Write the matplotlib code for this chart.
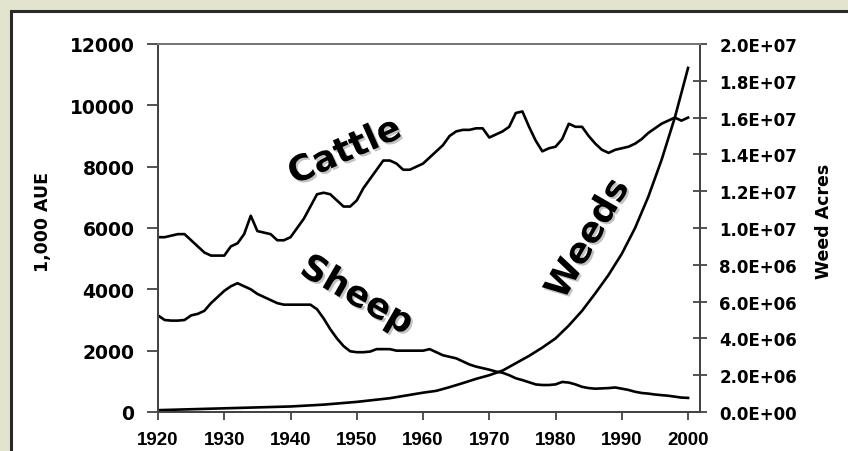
import matplotlib
matplotlib.use('Agg')
import matplotlib.pyplot as plt
import matplotlib.patheffects as pe
from matplotlib.patches import Rectangle
from matplotlib.ticker import FuncFormatter

# Cattle and sheep, 1,000 animal unit equivalents (annual)
years = list(range(1920, 2001))
cattle = [5700, 5700, 5750, 5800, 5800, 5600, 5400, 5200, 5100, 5100,
          5100, 5400, 5500, 5800, 6400, 5900, 5850, 5800, 5600, 5600,
          5700, 6000, 6300, 6700, 7100, 7150, 7100, 6900, 6700, 6700,
          6900, 7300, 7600, 7900, 8200, 8200, 8100, 7900, 7900, 8000,
          8100, 8300, 8500, 8700, 9000, 9150, 9200, 9200, 9250, 9250,
          8950, 9050, 9150, 9300, 9750, 9800, 9300, 8850, 8500, 8600,
          8650, 8900, 9400, 9300, 9300, 9000, 8750, 8550, 8450, 8550,
          8600, 8650, 8750, 8900, 9100, 9250, 9400, 9500, 9600, 9500,
          9600]
sheep = [3150, 3000, 2980, 2980, 3000, 3150, 3200, 3300, 3550, 3750,
         3950, 4100, 4200, 4100, 4000, 3850, 3750, 3650, 3550, 3500,
         3500, 3500, 3500, 3500, 3350, 3050, 2700, 2400, 2150, 1980,
         1950, 1950, 1970, 2050, 2050, 2050, 2000, 2000, 2000, 2000,
         2000, 2050, 1950, 1850, 1800, 1750, 1650, 1550, 1480, 1430,
         1380, 1320, 1280, 1200, 1100, 1040, 970, 900, 880, 880,
         900, 980, 960, 900, 820, 780, 760, 770, 780, 800,
         760, 720, 660, 620, 600, 570, 550, 530, 500, 470,
         460]

# Weed acres (right axis)
weed_years = [1920, 1925, 1930, 1935, 1940, 1945, 1950, 1955, 1960,
              1962, 1964, 1966, 1968, 1970, 1972, 1974, 1976, 1978, 1980,
              1982, 1984, 1986, 1988, 1990, 1992, 1994, 1996, 1998, 2000]
weeds = [1.0e5, 1.5e5, 2.0e5, 2.5e5, 3.0e5, 4.0e5, 5.5e5, 7.5e5, 1.05e6,
         1.15e6, 1.35e6, 1.57e6, 1.8e6, 2.0e6, 2.25e6, 2.65e6, 3.05e6, 3.5e6, 4.0e6,
         4.7e6, 5.5e6, 6.45e6, 7.45e6, 8.6e6, 1.0e7, 1.17e7, 1.37e7, 1.6e7, 1.87e7]

left_ticks = [0, 2000, 4000, 6000, 8000, 10000, 12000]
right_ticks = [0, 2e6, 4e6, 6e6, 8e6, 1e7, 1.2e7, 1.4e7, 1.6e7, 1.8e7, 2e7]
x_ticks = [1920, 1930, 1940, 1950, 1960, 1970, 1980, 1990, 2000]

fig = plt.figure(figsize=(8.48, 4.52), dpi=100)
fig.patch.set_facecolor('#e2e4cd')

# White panel with a dark frame (runs off the right and bottom edges)
panel = Rectangle((11 / 848, -0.05), 1.0, 1 - 12 / 452 + 0.05, transform=fig.transFigure,
                  facecolor='white', edgecolor='#2a2a2a', linewidth=2.2, zorder=-10)
fig.patches.append(panel)

ax = fig.add_axes([158 / 848, 1 - 413 / 452, 542 / 848, 368 / 452])
ax.set_facecolor('none')
ax2 = ax.twinx()
ax2.set_facecolor('none')

line_kw = dict(color='black', linewidth=1.9, solid_joinstyle='round')
ax.plot(years, cattle, **line_kw)
ax.plot(years, sheep, **line_kw)
ax2.plot(weed_years, weeds, **line_kw)

ax.set_xlim(1920, 2001.8)
ax.set_ylim(0, 12000)
ax2.set_ylim(0, 2e7)

ax.set_xticks(x_ticks)
ax.set_yticks(left_ticks)
ax2.set_yticks(right_ticks)
ax2.yaxis.set_major_formatter(FuncFormatter(lambda v, p: '%.1E' % v))

# Axis styling
for a in (ax, ax2):
    for s in a.spines.values():
        s.set_color('#444444')
        s.set_linewidth(1.4)
    a.spines['top'].set_color('#777777')
ax.tick_params(axis='y', direction='out', length=8, width=1.3, color='#444444', pad=9)
ax.tick_params(axis='x', direction='out', length=6, width=1.3, color='#444444', pad=8)
ax2.tick_params(axis='y', direction='inout', length=10, width=1.3, color='#444444', pad=9)

for lbl in ax.get_yticklabels():
    lbl.set_fontfamily('DejaVu Sans')
    lbl.set_fontweight('bold')
    lbl.set_fontsize(13.5)
for lbl in ax.get_xticklabels():
    lbl.set_fontfamily('Liberation Sans')
    lbl.set_fontweight('bold')
    lbl.set_fontsize(13.5)
for lbl in ax2.get_yticklabels():
    lbl.set_fontfamily('DejaVu Sans')
    lbl.set_fontweight('bold')
    lbl.set_fontsize(12)

ax.set_ylabel('1,000 AUE', fontsize=12.5, fontweight='bold', family='DejaVu Sans')
ax.yaxis.set_label_coords(-0.195, 0.52)
ax2.set_ylabel('Weed Acres', fontsize=12.5, fontweight='bold', family='DejaVu Sans')
ax2.yaxis.set_label_coords(1.212, 0.52)

# Big rotated series names with a soft shadow
shadow = [pe.withSimplePatchShadow(offset=(1.5, -1.5), shadow_rgbFace='#888888', alpha=0.5)]
text_kw = dict(fontsize=25.5, fontweight='bold', family='DejaVu Sans', ha='center', va='center',
               rotation_mode='anchor', path_effects=shadow)
ax.text(1948.2, 8500, 'Cattle', rotation=24, **text_kw)
ax.text(1950.0, 3800, 'Sheep', rotation=-30, **text_kw)
ax.text(1984.9, 5650, 'Weeds', rotation=60, **text_kw)

fig.savefig('out.png', dpi=100, facecolor=fig.get_facecolor())
